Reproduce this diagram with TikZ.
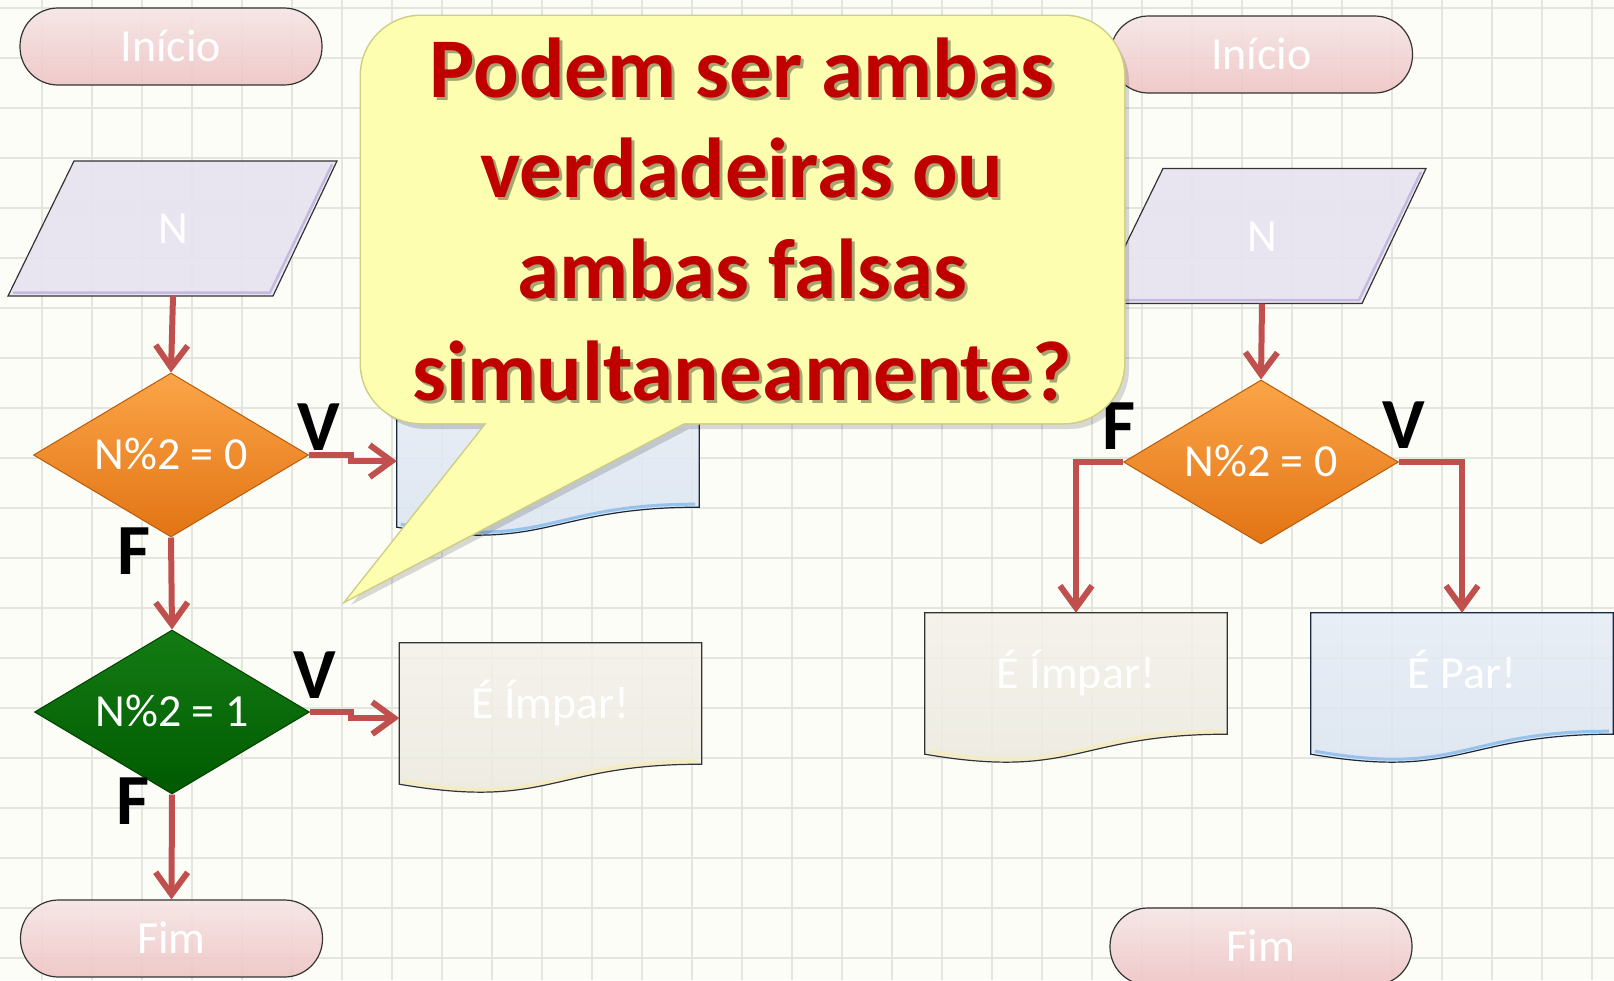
\documentclass[tikz,border=0pt]{standalone}
\usepackage{fontspec}
\setmainfont{Carlito}
\usetikzlibrary{shapes.geometric,arrows.meta,calc,shadows}
\pgfdeclarelayer{back}
\pgfdeclarelayer{shp}
\pgfsetlayers{back,shp,main}

\definecolor{bgc}{RGB}{253,253,248}
\definecolor{gridc}{RGB}{229,229,224}
\definecolor{arrc}{RGB}{192,80,77}
\definecolor{termA}{RGB}{246,229,229}
\definecolor{termB}{RGB}{238,196,196}
\definecolor{paraf}{RGB}{231,227,240}
\definecolor{parar}{RGB}{190,175,220}
\definecolor{orA}{RGB}{251,165,72}
\definecolor{orB}{RGB}{226,116,20}
\definecolor{orE}{RGB}{185,92,10}
\definecolor{grA}{RGB}{20,124,20}
\definecolor{grB}{RGB}{0,90,0}
\definecolor{grE}{RGB}{0,65,0}
\definecolor{begA}{RGB}{243,241,234}
\definecolor{begB}{RGB}{236,233,222}
\definecolor{begR}{RGB}{244,236,190}
\definecolor{bluA}{RGB}{230,236,245}
\definecolor{bluB}{RGB}{218,228,241}
\definecolor{bluR}{RGB}{150,195,235}
\definecolor{bluE}{RGB}{25,40,60}
\definecolor{calf}{RGB}{254,254,176}
\definecolor{cale}{RGB}{206,206,128}
\definecolor{calt}{RGB}{192,0,0}

\newcommand\docshape[3]{%
  \begin{pgfonlayer}{shp}
    \path[#2] (#1.north west) -- (#1.north east) -- (#1.south east)
      .. controls (#1.south) and ($(#1.south)+(0,46)$) .. ($(#1.south west)+(0,20)$) -- cycle;
    \draw[#3] ($(#1.south east)+(-4,-3)$)
      .. controls ($(#1.south)+(0,-3)$) and ($(#1.south)+(0,43)$) .. ($(#1.south west)+(4,17)$);
  \end{pgfonlayer}}
\newcommand\parashape[1]{%
  \begin{pgfonlayer}{shp}
    \path[parast] ($(#1.center)+(-99,-67.5)$) -- ($(#1.center)+(164,-67.5)$)
      -- ($(#1.center)+(100,67.5)$) -- ($(#1.center)+(-165,67.5)$) -- cycle;
    \draw[pararim] ($(#1.center)+(-160,64)$) -- ($(#1.center)+(97,64)$) -- ($(#1.center)+(159,-64)$);
  \end{pgfonlayer}}

\tikzset{
  gridl/.style={draw=gridc, line width=1.6pt},
  term/.style={rectangle, rounded corners=38pt, minimum width=302pt, minimum height=77pt,
    inner sep=0pt, top color=termA, bottom color=termB, draw=black!80, line width=1.2pt,
    fill opacity=0.9, text opacity=1, text=white,
    font=\fontsize{46pt}{50pt}\selectfont, text height=30pt, text depth=0pt},
  inp/.style={rectangle, minimum width=130pt, minimum height=135pt, inner sep=0pt,
    text=white, font=\fontsize{46pt}{50pt}\selectfont, text height=30pt, text depth=0pt},
  parast/.style={fill=paraf, fill opacity=0.9, draw=black!80, line width=1.2pt},
  pararim/.style={draw=parar, line width=2.5pt, opacity=0.8},
  dia/.style={diamond, aspect=1.7, minimum width=275pt, minimum height=164pt, inner sep=0pt,
    line width=1pt, text=white, font=\fontsize{46pt}{50pt}\selectfont,
    text height=29pt, text depth=0pt},
  diaor/.style={dia, draw=orE, top color=orA, bottom color=orB},
  diagr/.style={dia, draw=grE, top color=grA, bottom color=grB},
  docb/.style={rectangle, minimum width=302pt, minimum height=121pt, inner sep=0pt,
    text=white, font=\fontsize{46pt}{50pt}\selectfont, text height=30pt, text depth=0pt},
  begst/.style={top color=begA, bottom color=begB, fill opacity=0.88, draw=black!80, line width=1.2pt},
  blust/.style={top color=bluA, bottom color=bluB, fill opacity=0.88, draw=bluE, line width=1.2pt},
  begrim/.style={draw=begR, line width=3pt},
  blurim/.style={draw=bluR, line width=3pt},
  arr/.style={draw=arrc, line width=6pt, -{Straight Barb[length=22pt,width=32pt]}},
  lab/.style={font=\bfseries\fontsize{72pt}{72pt}\selectfont, text=black, inner sep=0pt},
  calfill/.style={fill=calf, draw=none},
  caledge/.style={draw=cale, line width=3pt},
  calshadow/.style={fill=black, opacity=0.15},
  caltext/.style={anchor=base, text=calt, inner sep=0pt, font=\bfseries\fontsize{85pt}{101pt}\selectfont},
  calsh/.style={anchor=base, text=black, opacity=0.35, inner sep=0pt, font=\bfseries\fontsize{85pt}{101pt}\selectfont}
}

\begin{document}
\begin{tikzpicture}[x=1pt, y=-1pt]
\useasboundingbox (0,0) rectangle (1614,980);
\begin{pgfonlayer}{back}
  \fill[bgc] (0,0) rectangle (1614,980);
  \foreach \gx in {42,92,...,1592} \draw[gridl] (\gx,0) -- (\gx,980);
  \foreach \gy in {8,58,...,958} \draw[gridl] (0,\gy) -- (1614,\gy);
\end{pgfonlayer}

% terminals
\node[term] (iniL) at (171,46.5) {Início};
\node[term] (iniR) at (1261.5,54.5) {Início};
\node[term] (fimL) at (171.5,938.5) {Fim};
\node[term] (fimR) at (1261,946.5) {Fim};

% inputs
\node[inp] (nL) at (173,228.5) {N};
\node[inp] (nR) at (1262,236) {N};
\parashape{nL}
\parashape{nR}

% decisions
\node[diaor] (d1) at (171,455) {N\%2 = 0};
\node[diagr] (d2) at (172,712) {N\%2 = 1};
\node[diaor] (d3) at (1261,462) {N\%2 = 0};

% outputs
\node[docb] (parL) at (548,446.5) {};
\node[docb] (impL) at (550.5,703.5) {É Ímpar!};
\node[docb] (impR) at (1076,673.5) {É Ímpar!};
\node[docb] (parR) at (1462,673.5) {É Par!};
\docshape{parL}{blust}{blurim}
\docshape{impL}{begst}{begrim}
\docshape{impR}{begst}{begrim}
\docshape{parR}{blust}{blurim}

% connectors
\draw[arr] (nL.south) -- (d1.north);
\draw[arr] (d1.south) -- (d2.north);
\draw[arr] (d2.south) -- (fimL.north);
\draw[arr] (d1.east) -- ++(42,0) |- ($(parL.north west)!0.62!(parL.south west)$);
\draw[arr] (d2.east) -- ++(41,0) |- ($(impL.north west)!0.62!(impL.south west)$);
\draw[arr] (nR.south) -- (d3.north);
\draw[arr] (d3.west) -| (impR.north);
\draw[arr] (d3.east) -| (parR.north);

% labels
\node[lab] (v1) at (319,427) {V};
\node[lab] (f1) at (134,551) {F};
\node[lab] (v2) at (315,675) {V};
\node[lab] (f2) at (133,801) {F};
\node[lab] (f3) at (1119,426) {F};
\node[lab] (v3) at (1404,425) {V};

% callout
\path[calshadow, rounded corners=60pt] (366,22) rectangle (1129,429);
\path[calshadow] (492,429) -- (351,605) -- (689,429) -- cycle;
\path[caledge, rounded corners=60pt] (361,16) rectangle (1124,423);
\path[caledge] (487,423) -- (347,600) -- (684,423) -- cycle;
\path[calfill, rounded corners=60pt] (361,16) rectangle (1124,423);
\path[calfill] (487,423) -- (347,600) -- (684,423) -- cycle;

\node[calsh] (s1) at (745,100) {Podem ser ambas};
\node[calsh] (s2) at (745,200) {verdadeiras ou};
\node[calsh] (s3) at (745,301) {ambas falsas};
\node[calsh] (s4) at (745,403) {simultaneamente?};
\node[caltext] (q1) at (742,97) {Podem ser ambas};
\node[caltext] (q2) at (742,197) {verdadeiras ou};
\node[caltext] (q3) at (742,298) {ambas falsas};
\node[caltext] (q4) at (742,400) {simultaneamente?};
\end{tikzpicture}
\end{document}
